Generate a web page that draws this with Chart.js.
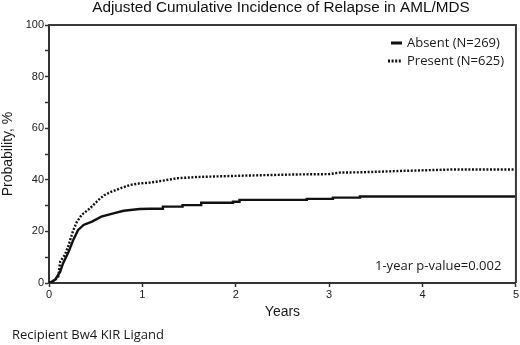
<!DOCTYPE html>
<html>
<head>
<meta charset="utf-8">
<script src="https://cdn.jsdelivr.net/npm/chart.js@4.4.1/dist/chart.umd.min.js"></script>
<style>
  html, body { margin: 0; padding: 0; background: #fff; }
  #wrap { width: 520px; height: 345px; position: relative; }
</style>
</head>
<body>
<div id="wrap"><canvas id="cif"></canvas></div>
<script>
// Absent group (solid line), years vs cumulative incidence %
// repeated years are the visible steps of the later part of the curve
const absentYears = [0, 0.03, 0.064, 0.12, 0.15, 0.21, 0.26, 0.31, 0.37, 0.46, 0.56, 0.69, 0.8, 0.97,
  1.08, 1.22, 1.22, 1.43, 1.43, 1.63, 1.63, 1.97, 1.97, 2.04, 2.04, 2.76, 2.76, 3.04, 3.04, 3.33, 3.33, 5];
const absentPct = [0, 0.5, 1.2, 4.4, 7.6, 12.1, 16.7, 20.5, 22.5, 23.8, 25.7, 27, 28, 28.7,
  28.8, 28.8, 29.6, 29.6, 30.2, 30.2, 31.1, 31.1, 31.5, 31.5, 32.2, 32.2, 32.6, 32.6, 33.1, 33.1, 33.5, 33.5];

// Present group (dotted line)
const presentYears = [0, 0.064, 0.1, 0.12, 0.17, 0.21, 0.26, 0.3, 0.35, 0.44, 0.53, 0.59, 0.67, 0.77,
  0.87, 0.97, 1.08, 1.26, 1.37, 1.6, 1.97, 2.3, 2.69, 3.0, 3.11, 3.33, 3.74, 4.33, 5];
const presentPct = [0, 1.2, 2.5, 8.3, 10.9, 14.7, 20.5, 23.8, 26.4, 29, 32.2, 34, 35.4, 36.8,
  38, 38.6, 38.9, 39.9, 40.6, 41.1, 41.5, 41.8, 42.1, 42.2, 42.8, 42.9, 43.4, 44.0, 44.0];

const seriesNames = ['Absent (N=269)', 'Present (N=625)'];
const yearTicks = [0, 1, 2, 3, 4, 5];
const pctTicks = [0, 20, 40, 60, 80, 100];

const chartTitle = 'Adjusted Cumulative Incidence of Relapse in AML/MDS';
const footNote = 'Recipient Bw4 KIR Ligand';
const pValueText = '1-year p-value=0.002';

function toPoints(xs, ys) {
  return xs.map((x, i) => ({ x: x, y: ys[i] }));
}

// draws the box, title, legend and notes that sit round the plot
const extrasPlugin = {
  id: 'extras',
  afterDraw(chart) {
    const ctx = chart.ctx;
    const area = chart.chartArea;
    ctx.save();

    // top and right sides of the frame
    ctx.strokeStyle = '#3a3a3a';
    ctx.lineWidth = 2;
    ctx.beginPath();
    ctx.moveTo(area.left, area.top);
    ctx.lineTo(area.right, area.top);
    ctx.lineTo(area.right, area.bottom);
    ctx.stroke();

    // title
    ctx.fillStyle = '#111';
    ctx.font = '15.3px "Liberation Sans", Arial, sans-serif';
    ctx.textAlign = 'center';
    ctx.textBaseline = 'middle';
    ctx.fillText(chartTitle, 281, 8);

    // legend
    const ds = chart.data.datasets;
    const rows = [43, 61];
    ctx.font = '13px "Open Sans", sans-serif';
    ctx.textAlign = 'left';
    ds.forEach((d, i) => {
      ctx.strokeStyle = d.borderColor;
      ctx.lineWidth = 3;
      ctx.setLineDash(d.borderDash || []);
      ctx.beginPath();
      ctx.moveTo(i === 0 ? 391 : 388, rows[i]);
      ctx.lineTo(402, rows[i]);
      ctx.stroke();
      ctx.setLineDash([]);
      ctx.fillStyle = '#1a1a1a';
      ctx.fillText(seriesNames[i], 407, rows[i]);
    });

    // p-value note
    ctx.font = '13px "Open Sans", sans-serif';
    ctx.fillText(pValueText, 375, 266);

    // footnote
    ctx.fillText(footNote, 12, 335);
    ctx.restore();
  }
};

const chart = new Chart(document.getElementById('cif'), {
  type: 'line',
  data: {
    datasets: [
      {
        label: seriesNames[0],
        data: toPoints(absentYears, absentPct),
        borderColor: '#111',
        borderWidth: 2.4,
        pointRadius: 0,
        tension: 0,
        fill: false
      },
      {
        label: seriesNames[1],
        data: toPoints(presentYears, presentPct),
        borderColor: '#111',
        borderWidth: 2.4,
        borderDash: [2, 1.6],
        pointRadius: 0,
        tension: 0,
        fill: false
      }
    ]
  },
  options: {
    responsive: true,
    maintainAspectRatio: false,
    animation: false,
    layout: { padding: { left: 0, top: 25, right: 3, bottom: 24 } },
    plugins: {
      legend: { display: false },
      tooltip: { enabled: false }
    },
    scales: {
      x: {
        type: 'linear',
        min: 0,
        max: 5,
        afterBuildTicks(scale) {
          scale.ticks = yearTicks.map(v => ({ value: v }));
        },
        afterFit(scale) { scale.height = 38; },
        grid: { drawOnChartArea: false, tickLength: 4, tickColor: '#333', tickWidth: 1.5 },
        border: { color: '#333', width: 2 },
        ticks: {
          color: '#222',
          font: { family: '"Liberation Sans", Arial, sans-serif', size: 11 },
          padding: 1,
          maxRotation: 0
        },
        title: {
          display: true,
          text: 'Years',
          color: '#1a1a1a',
          font: { family: '"Liberation Sans", Arial, sans-serif', size: 14 },
          padding: 0
        }
      },
      y: {
        type: 'linear',
        min: 0,
        max: 100,
        afterBuildTicks(scale) {
          const t = [];
          for (let v = 0; v <= 100; v += 10) t.push({ value: v });
          scale.ticks = t;
        },
        afterFit(scale) { scale.width = 49; },
        grid: { drawOnChartArea: false, tickLength: 4, tickColor: '#333', tickWidth: 1.5 },
        border: { color: '#333', width: 2 },
        ticks: {
          color: '#222',
          font: { family: '"Liberation Sans", Arial, sans-serif', size: 11 },
          padding: 1,
          callback: v => (pctTicks.includes(v) ? String(v) : '')
        },
        title: {
          display: true,
          text: 'Probability, %',
          color: '#1a1a1a',
          font: { family: '"Liberation Sans", Arial, sans-serif', size: 14 },
          padding: 0
        }
      }
    }
  },
  plugins: [extrasPlugin]
});
</script>
</body>
</html>
